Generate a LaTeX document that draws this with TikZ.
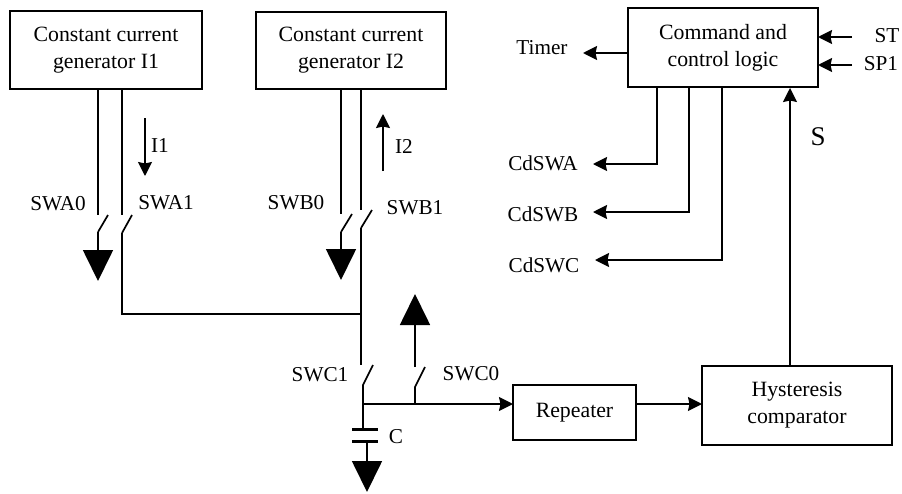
\documentclass[tikz,border=0pt]{standalone}
\usepackage{fontspec}
\setmainfont{Liberation Serif}
\usepackage{tikz}
\usetikzlibrary{arrows.meta}

\tikzset{
	block/.style={draw=black,line width=1.7pt,fill=white,align=center,inner sep=0pt,font=\fontsize{21.8}{27}\selectfont},
	lbl/.style={inner sep=0pt,font=\fontsize{21.2}{23}\selectfont},
	wire/.style={line width=1.7pt},
	sig/.style={wire,-{Stealth[length=14pt,width=14pt,inset=1.5pt]}},
	gnd/.style={wire,-{Triangle[length=31pt,width=30pt]}}
}

\begin{document}
\begin{tikzpicture}[x=1pt,y=-1pt]
	\useasboundingbox (0,0) rectangle (902,493);

	% blocks

	\node[block,minimum width=192pt,minimum height=78pt] (G1) at (106,50) {Constant current\\generator I1};
	\node[block,minimum width=190pt,minimum height=77pt] (G2) at (351,50.5) {Constant current\\generator I2};
	\node[block,minimum width=190pt,minimum height=79pt] (L) at (723,47.5) {Command and\\control logic};
	\node[block,minimum width=123pt,minimum height=55pt] (R) at (574.5,412.5) {Repeater};
	\node[block,minimum width=190pt,minimum height=79pt] (H) at (797,405.5) {Hysteresis\\comparator};

	% switches, upper legs

	\foreach \n/\x/\yo/\yi/\xf in {A0/98/215/232/108, A1/122/215/233/132, B0/341/214/232/352, B1/361/210/228/372} {
		\coordinate (T\n) at (\x,89);
		\coordinate (O\n) at (\x,\yo);
		\coordinate (P\n) at (\x,\yi);
		\coordinate (F\n) at (\xf,\yo);
		\draw[wire] (T\n) -- (O\n);
		\draw[wire] (P\n) -- (F\n);
	}
	\coordinate (V1) at (98,281);
	\coordinate (V2) at (341,280);
	\draw[gnd] (PA0) -- (V1);
	\draw[gnd] (PB0) -- (V2);

	% common line

	\coordinate (J1) at (122,314);
	\coordinate (J2) at (361,314);
	\coordinate (W1) at (361,365);
	\coordinate (W2) at (363,385);
	\coordinate (W3) at (373,365);
	\coordinate (W4) at (363,404);
	\coordinate (W5) at (415,404);
	\coordinate (W6) at (415,387);
	\coordinate (W7) at (425,367);
	\coordinate (W8) at (415,367);
	\coordinate (V3) at (415,294);
	\coordinate (W9) at (513,404);
	\coordinate (W10) at (636,404);
	\coordinate (W11) at (702,404);
	\draw[wire] (PA1) -- (J1) -- (J2);
	\draw[wire] (PB1) -- (J2) -- (W1);
	\draw[wire] (W3) -- (W2) -- (W4);
	\draw[wire] (W5) -- (W6) -- (W7);
	\draw[gnd] (W8) -- (V3);
	\draw[sig] (W4) -- (W9);
	\draw[sig] (W10) -- (W11);

	% capacitor

	\coordinate (C1) at (363,429);
	\coordinate (C2) at (367,441);
	\coordinate (V4) at (367,492);
	\draw[wire] (W4) -- (C1);
	\draw[line width=3pt] (352,429) -- (378,429);
	\draw[line width=3pt] (352,441) -- (378,441);
	\draw[gnd] (C2) -- (V4);

	% currents

	\coordinate (I1a) at (145,118);
	\coordinate (I1b) at (145,176);
	\coordinate (I2a) at (383,171);
	\coordinate (I2b) at (383,114);
	\draw[sig] (I1a) -- (I1b);
	\draw[sig] (I2a) -- (I2b);

	% logic

	\coordinate (S0) at (790,366);
	\coordinate (S1) at (790,88);
	\coordinate (Tm) at (583,53);
	\coordinate (Tm0) at (628,53);
	\coordinate (ST0) at (852,37);
	\coordinate (ST1) at (818,37);
	\coordinate (SP0) at (852,65);
	\coordinate (SP1) at (818,65);
	\draw[sig] (S0) -- (S1);
	\draw[sig] (Tm0) -- (Tm);
	\draw[sig] (ST0) -- (ST1);
	\draw[sig] (SP0) -- (SP1);
	\foreach \n/\x/\y/\e in {A/657/164/593, B/689/212/593, C/722/260/595} {
		\coordinate (D\n) at (\x,87);
		\coordinate (E\n) at (\x,\y);
		\coordinate (Q\n) at (\e,\y);
		\draw[sig] (D\n) -- (E\n) -- (Q\n);
	}

	% labels

	\node[lbl] (tI1) at (160,145) {I1};
	\node[lbl] (tI2) at (404,146) {I2};
	\node[lbl] (tA0) at (58,204) {SWA0};
	\node[lbl] (tA1) at (166,203) {SWA1};
	\node[lbl] (tB0) at (296,203) {SWB0};
	\node[lbl] (tB1) at (415,208) {SWB1};
	\node[lbl] (tC1) at (320,375) {SWC1};
	\node[lbl] (tC0) at (471,374) {SWC0};
	\node[lbl] (tC) at (396,437) {C};
	\node[lbl] (tT) at (542,48) {Timer};
	\node[lbl] (tST) at (887,36) {ST};
	\node[lbl] (tSP) at (881,64) {SP1};
	\node[lbl] (tS) at (818,137) {\fontsize{27}{29}\selectfont S};
	\node[lbl] (tCA) at (543,163) {CdSWA};
	\node[lbl] (tCB) at (543,214) {CdSWB};
	\node[lbl] (tCC) at (544,265) {CdSWC};
\end{tikzpicture}
\end{document}
